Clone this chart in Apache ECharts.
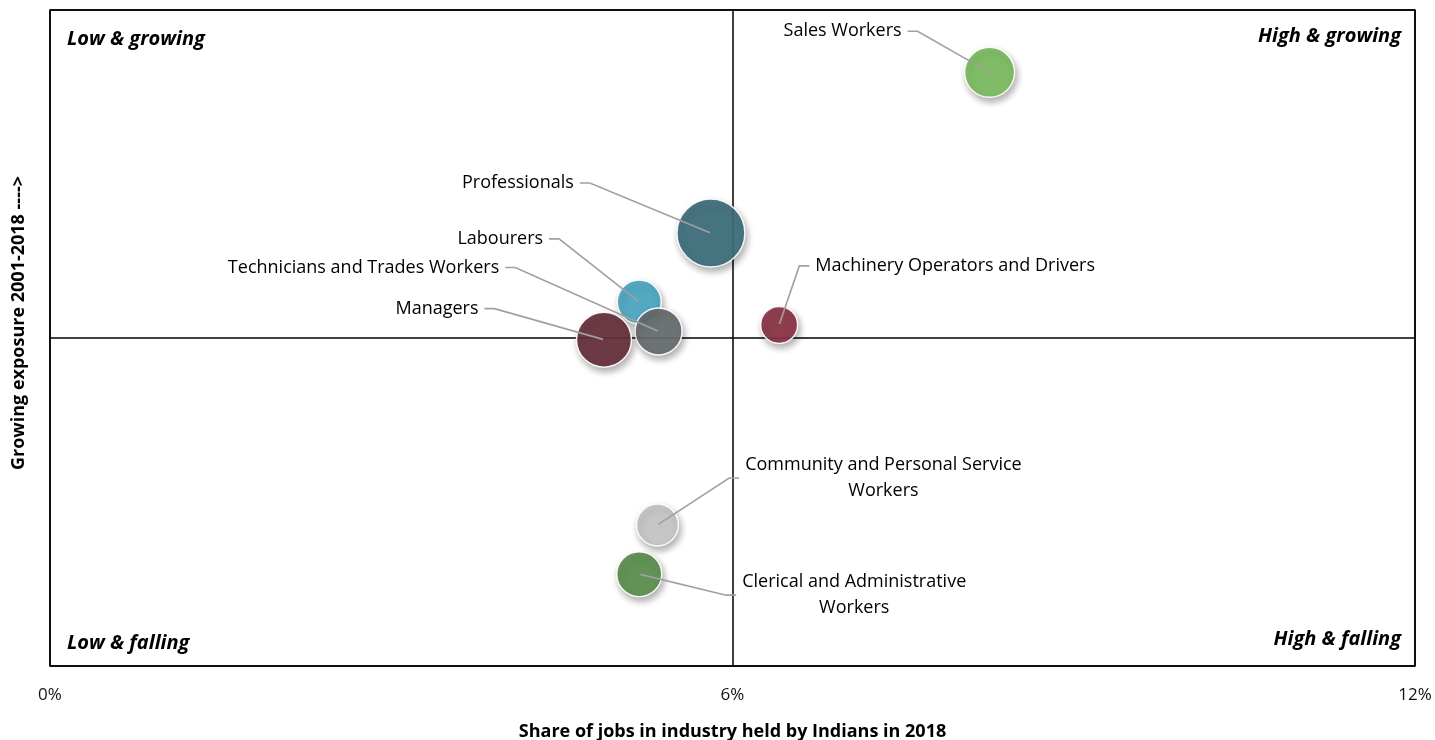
<!DOCTYPE html>
<html>
<head>
<meta charset="utf-8">
<title>Occupations bubble chart</title>
<script src="https://cdn.jsdelivr.net/npm/echarts@6/dist/echarts.min.js"></script>
<style>
  html, body { margin: 0; padding: 0; background: #fff; }
  #chart { width: 1435px; height: 740px; }
</style>
</head>
<body>
<div id="chart"></div>
<script>
// occupation groups, drawn in this order (later ones on top)
const occupations = [
  'Sales Workers',
  'Professionals',
  'Labourers',
  'Technicians and Trades Workers',
  'Managers',
  'Machinery Operators and Drivers',
  'Community and Personal Service\nWorkers',
  'Clerical and Administrative\nWorkers'
];
// share of jobs in industry held by Indians in 2018 (%)
const shareOfJobs = [8.26, 5.81, 5.18, 5.35, 4.87, 6.41, 5.34, 5.18];
// growing exposure 2001-2018 (relative, 0 = no change)
const exposureGrowth = [0.81, 0.32, 0.11, 0.02, -0.005, 0.04, -0.57, -0.72];
// bubble size
const bubbleSize = [50, 68, 44, 47, 55, 37, 42, 45];

const xTicks = [0, 6, 12];

const colors = ['#7cbd61', '#3d6e7c', '#4ba7c3', '#676c6f', '#66303b', '#8b3345', '#c8c8c8', '#5b8f4e'];
// label offset from the bubble centre, in px
const labelOffsets = [
  [-147, -41], [-193, -50], [-139, -63], [-295, -64],
  [-167, -31], [176, -59], [226, -47], [215, 21]
];

const points = occupations.map((name, i) => ({
  name: name,
  value: [shareOfJobs[i], exposureGrowth[i], bubbleSize[i]],
  itemStyle: { color: colors[i] }
}));

const font = '"Open Sans", "Noto Sans", sans-serif';

const chart = echarts.init(document.getElementById('chart'));

const option = {
  animation: false,
  textStyle: { fontFamily: font },
  grid: {
    left: 50, right: 20, top: 10, bottom: 74,
    outerBoundsMode: 'none',
    show: true, borderColor: '#000', borderWidth: 1.5
  },
  xAxis: {
    type: 'value',
    min: xTicks[0], max: xTicks[xTicks.length - 1], interval: 6,
    name: 'Share of jobs in industry held by Indians in 2018',
    nameLocation: 'middle',
    nameGap: 57,
    nameTextStyle: { fontFamily: font, fontSize: 18, fontWeight: 'bold', color: '#000' },
    axisLine: { show: false },
    axisTick: { show: false },
    axisLabel: { formatter: '{value}%', fontSize: 17, color: '#111', margin: 21, fontFamily: font },
    splitLine: { show: true, lineStyle: { color: '#000', width: 1.5 } }
  },
  yAxis: {
    type: 'value',
    min: -1, max: 1, interval: 1,
    name: 'Growing exposure 2001-2018 ---->',
    nameLocation: 'middle',
    nameGap: 22,
    nameTextStyle: { fontFamily: font, fontSize: 18, fontWeight: 'bold', color: '#000', padding: [0, 0, 0, 30] },
    axisLine: { show: false },
    axisTick: { show: false },
    axisLabel: { show: false },
    splitLine: { show: true, lineStyle: { color: '#000', width: 1.5 } }
  },
  graphic: [
    { type: 'text', left: 67, top: 29, style: { text: 'Low & growing', font: 'italic bold 20px ' + font, fill: '#000' } },
    { type: 'text', right: 34, top: 26, style: { text: 'High & growing', font: 'italic bold 20px ' + font, fill: '#000' } },
    { type: 'text', left: 67, top: 633, style: { text: 'Low & falling', font: 'italic bold 20px ' + font, fill: '#000' } },
    { type: 'text', right: 34, top: 629, style: { text: 'High & falling', font: 'italic bold 20px ' + font, fill: '#000' } }
  ],
  series: [
    {
      type: 'scatter',
      data: points,
      symbolSize: d => d[2],
      itemStyle: {
        opacity: 0.92,
        borderColor: '#fff',
        borderWidth: 1.5,
        shadowBlur: 7,
        shadowOffsetX: 2,
        shadowOffsetY: 4,
        shadowColor: 'rgba(0,0,0,0.35)'
      },
      emphasis: { disabled: true },
      z: 2
    },
    {
      // tiny markers at the bubble centres carry the labels and leader lines
      type: 'scatter',
      data: points.map(p => ({ name: p.name, value: p.value })),
      symbolSize: 2,
      itemStyle: { color: 'rgba(0,0,0,0)' },
      label: {
        show: true,
        position: 'inside',
        formatter: p => p.name,
        fontFamily: font,
        fontSize: 18,
        lineHeight: 26,
        color: '#000',
        opacity: 1,
        align: 'center',
        padding: [0, 6]
      },
      labelLine: {
        show: true,
        length2: 10,
        lineStyle: { color: '#a0a0a0', width: 1.6 }
      },
      labelLayout: p => ({ dx: labelOffsets[p.dataIndex][0], dy: labelOffsets[p.dataIndex][1] }),
      emphasis: { disabled: true },
      silent: true,
      z: 3
    }
  ]
};

chart.setOption(option);
</script>
</body>
</html>
